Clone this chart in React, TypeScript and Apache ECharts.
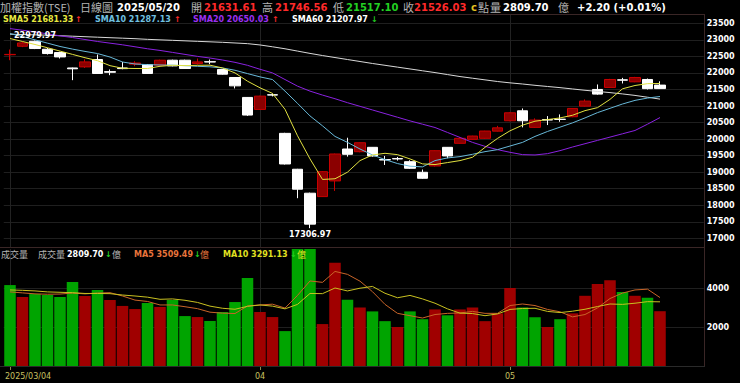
import React, { useEffect, useRef } from 'react';
import * as echarts from 'echarts';

const dates = [
  '2025/03/04','2025/03/05','2025/03/06','2025/03/07','2025/03/10','2025/03/11','2025/03/12','2025/03/13','2025/03/14','2025/03/17',
  '2025/03/18','2025/03/19','2025/03/20','2025/03/21','2025/03/24','2025/03/25','2025/03/26','2025/03/27','2025/03/28','2025/03/31',
  '2025/04/01','2025/04/02','2025/04/07','2025/04/08','2025/04/09','2025/04/10','2025/04/11','2025/04/14','2025/04/15','2025/04/16',
  '2025/04/17','2025/04/18','2025/04/21','2025/04/22','2025/04/23','2025/04/24','2025/04/25','2025/04/28','2025/04/29','2025/04/30',
  '2025/05/02','2025/05/05','2025/05/06','2025/05/07','2025/05/08','2025/05/09','2025/05/12','2025/05/13','2025/05/14','2025/05/15',
  '2025/05/16','2025/05/19','2025/05/20'
];
const padCategories = ['', '', ''];

const opens = [
  22550, 22806, 22957, 22716, 22616, 22150, 22182, 22405, 22040, 22150,
  22265, 22254, 22233, 22384, 22384, 22283, 22340, 22104, 21862, 21259,
  20897, 21340, 20173, 19088, 18364, 18261, 18735, 19700, 19618, 19751,
  19380, 19410, 19317, 18996, 19187, 19751, 19872, 19992, 20023, 20240,
  20554, 20855, 20354, 20590, 20600, 20675, 20996, 21500, 21561, 21790,
  21731, 21802, 21631.61
];
const closes = [
  22560, 22906, 22737, 22586, 22484, 22125, 22333, 21983, 22020, 22130,
  22300, 21983, 22384, 22212, 22134, 22333, 22330, 21962, 21609, 20726,
  21298, 21330, 19247, 18485, 17429, 19015, 19549, 19540, 19890, 19489,
  19368, 19400, 19117, 18815, 19649, 19489, 20023, 20092, 20243, 20340,
  20795, 20554, 20575, 20575, 20595, 20926, 21147, 21359, 21802, 21781,
  21862, 21523.83, 21526.03
];
const lows = [
  22384, 22780, 22720, 22556, 22435, 21781, 22150, 21970, 21932, 22110,
  22203, 21970, 22220, 22200, 22120, 22254, 22264, 21950, 21531, 20700,
  20880, 21290, 19232, 18213, 17306.97, 18250, 18433, 19470, 19600, 19470,
  19217, 19350, 19100, 18800, 19170, 19420, 19860, 19980, 20010, 20230,
  20540, 20354, 20340, 20424, 20523, 20660, 20980, 21340, 21550, 21681,
  21720, 21500, 21517.10
];
const highs = [
  22707, 22950, 22979.97, 22755, 22640, 22160, 22414, 22556, 22104, 22333,
  22354, 22270, 22400, 22400, 22400, 22435, 22405, 22115, 21870, 21270,
  21310, 21380, 20190, 19100, 18380, 19030, 19560, 20041, 19900, 19760,
  19490, 19460, 19360, 19080, 19660, 19760, 20060, 20100, 20250, 20400,
  20810, 20926, 20626, 20695, 20746, 20940, 21199, 21651, 21820, 21851,
  21880, 21830, 21746.56
];

const sma5 = [
  23040, 22950, 22860, 22760, 22660, 22560, 22460, 22370, 22220, 22140,
  22134, 22134, 22200, 22230, 22220, 22230, 22233, 22150, 22000, 21750,
  21550, 21380, 20900, 20100, 19400, 18780, 18800, 19000, 19350, 19520,
  19570, 19530, 19400, 19250, 19230, 19290, 19350, 19450, 19750, 20020,
  20250, 20420, 20540, 20590, 20640, 20720, 20860, 20950, 21200, 21520,
  21620, 21675, 21681.33
];
const sma10 = [
  23190, 23100, 23000, 22900, 22800, 22720, 22650, 22586, 22480, 22330,
  22270, 22250, 22240, 22235, 22220, 22200, 22185, 22150, 22080, 21980,
  21880, 21800, 21450, 21080, 20700, 20400, 20080, 19900, 19700, 19520,
  19380, 19260, 19180, 19160, 19350, 19430, 19470, 19540, 19620, 19680,
  19790, 19900, 20080, 20230, 20360, 20490, 20640, 20800, 20930, 21060,
  21170, 21240, 21287.13
];
const sma20 = [
  23340, 23290, 23240, 23180, 23120, 23070, 23010, 22950, 22900, 22850,
  22790, 22730, 22680, 22620, 22560, 22500, 22450, 22390, 22320, 22230,
  22110, 22000, 21800, 21600, 21450, 21330, 21220, 21100, 20990, 20880,
  20770, 20660, 20550, 20450, 20350, 20200, 20050, 19900, 19780, 19680,
  19600, 19530, 19520, 19560, 19650, 19760, 19860, 19960, 20060, 20160,
  20260, 20450, 20650.03
];
const sma60 = [
  23170, 23160, 23150, 23140, 23125, 23110, 23095, 23080, 23065, 23050,
  23035, 23015, 23000, 22985, 22970, 22955, 22940, 22925, 22905, 22885,
  22845, 22790, 22730, 22660, 22590, 22525, 22465, 22405, 22345, 22285,
  22230, 22175, 22120, 22065, 22010, 21950, 21890, 21840, 21790, 21740,
  21700, 21665, 21625, 21590, 21555, 21515, 21475, 21440, 21405, 21365,
  21320, 21265, 21207.97
];

const volumes = [
  4150, 3540, 3690, 3640, 3540, 4310, 3590, 3900, 3385, 3080,
  2920, 3230, 3030, 3385, 2560, 2510, 2310, 2770, 3280, 4510,
  2770, 2510, 1790, 6500, 6500, 2150, 5300, 3400, 3000, 2800,
  2300, 2000, 2800, 2400, 2900, 2600, 2900, 3000, 2300, 2700,
  4000, 3000, 2500, 2000, 2400, 2700, 3600, 4200, 4400, 3800,
  3600, 3500, 2809.70
];
// 1 = up day (red), 0 = down day (green)
const volUp = [
  0, 1, 0, 0, 0, 0, 1, 0, 1, 1,
  1, 0, 1, 0, 0, 1, 0, 0, 0, 0,
  1, 1, 0, 0, 0, 1, 1, 0, 1, 0,
  0, 1, 0, 0, 1, 0, 1, 1, 1, 1,
  1, 0, 0, 1, 0, 1, 1, 1, 1, 0,
  1, 0, 1
];
const volMa5 = [
  3800, 3750, 3700, 3680, 3690, 3740, 3700, 3740, 3760, 3590,
  3380, 3310, 3130, 3130, 3040, 2940, 2760, 2710, 2690, 3080,
  3130, 3170, 2970, 3620, 4360, 4290, 4850, 4700, 4350, 3810,
  3160, 2700, 2580, 2460, 2640, 2700, 2720, 2800, 2700, 2700,
  3100, 3180, 3100, 2900, 2780, 2520, 2640, 2980, 3460, 3740,
  3900, 3940, 3509.49
];
const volMa10 = [
  3900, 3880, 3850, 3800, 3780, 3760, 3720, 3720, 3710, 3640,
  3590, 3530, 3420, 3440, 3370, 3260, 3070, 2960, 2910, 3060,
  3130, 3070, 2930, 3160, 3720, 3710, 4000, 3850, 3990, 4080,
  3730, 3500, 3620, 3440, 3220, 2930, 2710, 2690, 2580, 2670,
  2900, 2950, 2960, 2800, 2740, 2810, 2910, 3050, 3180, 3160,
  3220, 3300, 3291.13
];

const monthTickIdx = [0, 20, 40];
const monthTickLabels = ['2025/03/04', '04', '05'];

const GRAY = '#b4b4b4';
const RED = '#ff2a2a';
const GREEN = '#22d022';
const NUM = '"DejaVu Sans", Verdana, sans-serif';
const CJK = '"Noto Sans CJK TC", "Noto Sans CJK SC", sans-serif';

function arrow(cur: number, prev: number) {
  return cur >= prev ? { ch: '↑', color: RED } : { ch: '↓', color: GREEN };
}

function txt(x: number, y: number, text: string, fill: string, font: string, align = 'left') {
  return {
    type: 'text', x, y, silent: true, z: 100,
    style: { text, fill, font, align, textAlign: align, verticalAlign: 'middle', textVerticalAlign: 'middle' },
  };
}
function hline(x1: number, x2: number, y: number, color: string) {
  return { type: 'line', silent: true, z: 50, shape: { x1, y1: y, x2, y2: y }, style: { stroke: color, lineWidth: 1 } };
}
function vline(x: number, y1: number, y2: number, color: string) {
  return { type: 'line', silent: true, z: 50, shape: { x1: x, y1, x2: x, y2 }, style: { stroke: color, lineWidth: 1 } };
}

export default function App() {
  const ref = useRef<HTMLDivElement>(null);
  useEffect(() => {
    document.body.style.margin = '0';
    document.body.style.background = '#000';
    const chart = echarts.init(ref.current!, null, { renderer: 'svg' });
    const n = dates.length;
    const last = n - 1;
    const cats = [...dates, ...padCategories];

    const GL = 3.75, GW = 700;
    const mainTop = 6.76, mainH = 248.1;
    const volTop = 249, volH = 117;

    const iMax = highs.indexOf(Math.max(...highs));
    const iMin = lows.indexOf(Math.min(...lows));

    const candleData = opens.map((o, i) => [o, closes[i], lows[i], highs[i]]);
    const volData = volumes.map((v, i) => ({
      value: v,
      itemStyle: { color: volUp[i] ? '#a00000' : '#00a400' },
    }));

    const tickSel = (idx: number) => monthTickIdx.indexOf(idx) >= 0;
    const priceSplitColors: string[] = [];
    for (let v = 16500; v <= 24000; v += 500) {
      priceSplitColors.push(v === 16500 || v === 24000 ? 'rgba(0,0,0,0)' : '#1f1f1f');
    }

    const chg = closes[last] - closes[last - 1];
    const chgPct = (chg / closes[last - 1]) * 100;
    const sgn = chg >= 0 ? '+' : '-';

    const a5 = arrow(sma5[last], sma5[last - 1]);
    const a10 = arrow(sma10[last], sma10[last - 1]);
    const a20 = arrow(sma20[last], sma20[last - 1]);
    const a60 = arrow(sma60[last], sma60[last - 1]);
    const av = arrow(volumes[last], volumes[last - 1]);
    const avm5 = arrow(volMa5[last], volMa5[last - 1]);
    const avm10 = arrow(volMa10[last], volMa10[last - 1]);

    const H1 = `bold 10px ${NUM}`;
    const C1 = `11px ${CJK}`;
    const L2 = `bold 8px ${NUM}`;
    const C2 = `9px ${CJK}`;
    const BORDER = '#3a2626';

    const baseGraphic: any[] = [
      hline(378, 705, 14.5, BORDER),
      hline(0, 705, 247.5, BORDER),
      hline(0, 705, 366.5, '#2a2a2a'),
      vline(704.5, 14, 366, BORDER),
      txt(0, 7, '加權指數(TSE)', GRAY, C1),
      txt(80, 7, '日線圖', GRAY, C1),
      txt(117, 7, dates[last], '#ffffff', H1),
      txt(191, 7, '開', GRAY, C1),
      txt(204, 7, opens[last].toFixed(2), RED, H1),
      txt(262, 7, '高', GRAY, C1),
      txt(275, 7, highs[last].toFixed(2), RED, H1),
      txt(333, 7, '低', GRAY, C1),
      txt(346, 7, lows[last].toFixed(2), GREEN, H1),
      txt(403, 7, '收', GRAY, C1),
      txt(414, 7, closes[last].toFixed(2), RED, H1),
      txt(471, 7, 'c', '#e0c020', H1),
      txt(478, 7, '點', GRAY, C1),
      txt(490, 7, '量', GRAY, C1),
      txt(503, 7, volumes[last].toFixed(2), '#ffffff', H1),
      txt(558, 7, '億', GRAY, C1),
      txt(577, 7, `${sgn}${Math.abs(chg).toFixed(2)} (${sgn}${Math.abs(chgPct).toFixed(2)}%)`, '#ffffff', H1),
      txt(3, 19.5, `SMA5 ${sma5[last].toFixed(2)}`, '#e8e840', L2),
      txt(75, 19.5, a5.ch, a5.color, L2),
      txt(95, 19.5, `SMA10 ${sma10[last].toFixed(2)}`, '#70c0e0', L2),
      txt(174, 19.5, a10.ch, a10.color, L2),
      txt(193, 19.5, `SMA20 ${sma20[last].toFixed(2)}`, '#9a30f0', L2),
      txt(272, 19.5, a20.ch, a20.color, L2),
      txt(292, 19.5, `SMA60 ${sma60[last].toFixed(2)}`, '#ffffff', L2),
      txt(371, 19.5, a60.ch, a60.color, L2),
      txt(1, 254, '成交量', GRAY, C2),
      txt(38, 254, '成交量', GRAY, C2),
      txt(67, 254, volumes[last].toFixed(2), '#ffffff', L2),
      txt(105, 254, av.ch, av.color, L2),
      txt(112, 254, '億', GRAY, C2),
      txt(134, 254, `MA5 ${volMa5[last].toFixed(2)}`, '#e8743b', L2),
      txt(194, 254, avm5.ch, avm5.color, L2),
      txt(200, 254, '億', '#e8743b', C2),
      txt(223, 254, `MA10 ${volMa10[last].toFixed(2)}`, '#e0e020', L2),
      txt(290, 254, avm10.ch, avm10.color, L2),
      txt(297, 254, '億', '#e0e020', C2),
    ];

    const option: any = {
      animation: false,
      backgroundColor: '#000000',
      grid: [
        { left: GL, width: GW, top: mainTop, height: mainH },
        { left: GL, width: GW, top: volTop, height: volH },
        { left: GL, width: GW, top: 14.5, height: 233 },
      ],
      xAxis: [
        { type: 'category', gridIndex: 0, data: cats, boundaryGap: true, show: false },
        {
          type: 'category', gridIndex: 1, data: cats, boundaryGap: true,
          axisLine: { show: false },
          axisTick: { show: true, interval: tickSel, alignWithLabel: true, length: 4, lineStyle: { color: '#8a8a50' } },
          axisLabel: { show: false },
          splitLine: { show: true, interval: tickSel, alignWithLabel: true, lineStyle: { color: '#222222' } },
        },
        {
          type: 'category', gridIndex: 2, data: cats, boundaryGap: true,
          axisLine: { show: false }, axisTick: { show: false }, axisLabel: { show: false },
          splitLine: { show: true, interval: tickSel, alignWithLabel: true, lineStyle: { color: '#222222' } },
        },
      ],
      yAxis: [
        {
          type: 'value', gridIndex: 0, position: 'right', min: 16500, max: 24000, interval: 500,
          axisLine: { show: false }, axisTick: { show: false },
          axisLabel: {
            margin: 3, color: '#ffffff', fontSize: 8, fontWeight: 'bold', fontFamily: NUM,
            formatter: (v: number) => (v === 16500 || v === 24000 ? '' : String(v)),
          },
          splitLine: { show: true, lineStyle: { color: priceSplitColors, width: 1 } },
        },
        {
          type: 'value', gridIndex: 1, position: 'right', min: 0, max: 6000, interval: 2000,
          axisLine: { show: false }, axisTick: { show: false },
          axisLabel: {
            margin: 3, color: '#ffffff', fontSize: 8, fontWeight: 'bold', fontFamily: NUM,
            formatter: (v: number) => (v === 0 || v === 6000 ? '' : String(v)),
          },
          splitLine: { show: true, lineStyle: { color: ['rgba(0,0,0,0)', '#1f1f1f', '#1f1f1f', 'rgba(0,0,0,0)'] } },
        },
        { type: 'value', gridIndex: 2, min: 0, max: 1, show: false },
      ],
      series: [
        {
          type: 'candlestick', xAxisIndex: 0, yAxisIndex: 0, data: candleData, barWidth: 11, z: 2,
          itemStyle: { color: '#8b0000', color0: '#ffffff', borderColor: '#c80000', borderColor0: '#ffffff', borderWidth: 1 },
          markPoint: {
            symbol: 'circle', symbolSize: 1, silent: true,
            itemStyle: { color: 'rgba(0,0,0,0)' },
            label: { show: true, color: '#ffffff', fontSize: 8, fontWeight: 'bold', fontFamily: NUM },
            data: [
              { coord: [iMax, highs[iMax]], value: highs[iMax], label: { position: 'top', distance: 1, formatter: highs[iMax].toFixed(2) } },
              { coord: [iMin, lows[iMin]], value: lows[iMin], label: { position: 'bottom', distance: 2, formatter: lows[iMin].toFixed(2) } },
            ],
          },
        },
        { type: 'line', xAxisIndex: 0, yAxisIndex: 0, data: sma60, symbol: 'none', z: 3, lineStyle: { width: 1, color: '#d8d8d8' } },
        { type: 'line', xAxisIndex: 0, yAxisIndex: 0, data: sma20, symbol: 'none', z: 3, lineStyle: { width: 1, color: '#8a22e0' } },
        { type: 'line', xAxisIndex: 0, yAxisIndex: 0, data: sma10, symbol: 'none', z: 3, lineStyle: { width: 1, color: '#68b8d8' } },
        { type: 'line', xAxisIndex: 0, yAxisIndex: 0, data: sma5, symbol: 'none', z: 3, lineStyle: { width: 1, color: '#e0e040' } },
        { type: 'bar', xAxisIndex: 1, yAxisIndex: 1, data: volData, barCategoryGap: '8%', z: 2 },
        { type: 'line', xAxisIndex: 1, yAxisIndex: 1, data: volMa5, symbol: 'none', z: 3, lineStyle: { width: 1, color: '#c86428' } },
        { type: 'line', xAxisIndex: 1, yAxisIndex: 1, data: volMa10, symbol: 'none', z: 3, lineStyle: { width: 1, color: '#c8c020' } },
      ],
      graphic: { elements: baseGraphic },
    };
    chart.setOption(option);

    const labelEls = monthTickIdx.map((idx, j) => {
      const px = chart.convertToPixel({ xAxisIndex: 1 }, idx) as number;
      return txt(j === 0 ? px - 5 : px, 376, monthTickLabels[j], '#c8c060', `8px ${NUM}`, j === 0 ? 'left' : 'center');
    });
    chart.setOption({ graphic: { elements: [...baseGraphic, ...labelEls] } });

    return () => chart.dispose();
  }, []);
  return <div ref={ref} style={{ position: 'absolute', left: 0, top: 0, width: 740, height: 383, background: '#000' }} />;
}
